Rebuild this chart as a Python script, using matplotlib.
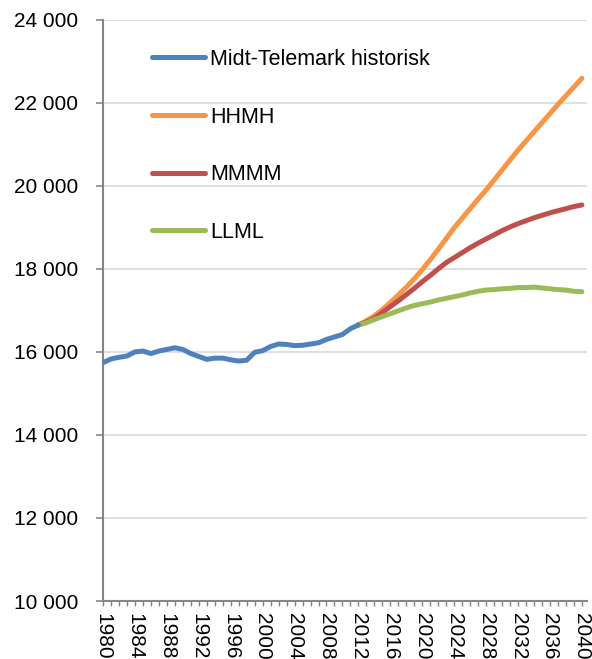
import numpy as np
import matplotlib
matplotlib.use("Agg")
import matplotlib.pyplot as plt
from matplotlib.ticker import FuncFormatter, MultipleLocator

plt.rcParams['font.family'] = ['Liberation Sans', 'DejaVu Sans']

# historical population, Midt-Telemark
hist_years = list(range(1980, 2013))
hist_values = [15740, 15830, 15870, 15900, 16000, 16020, 15960, 16020, 16060, 16100,
               16060, 15960, 15890, 15820, 15850, 15850, 15810, 15780, 15800, 15990,
               16030, 16130, 16190, 16180, 16150, 16160, 16190, 16220, 16300, 16360,
               16420, 16560, 16650]

# projections 2012-2040
proj_years = list(range(2012, 2041))
hhmh = [16650, 16750, 16870, 17020, 17190, 17370, 17560, 17760, 17980, 18220,
        18470, 18730, 18990, 19220, 19450, 19680, 19900, 20140, 20380, 20620,
        20860, 21080, 21300, 21520, 21740, 21960, 22170, 22380, 22590]
mmmm = [16650, 16720, 16810, 16950, 17090, 17230, 17380, 17530, 17690, 17840,
        18000, 18150, 18270, 18390, 18510, 18620, 18720, 18820, 18920, 19010,
        19090, 19160, 19230, 19290, 19350, 19400, 19450, 19500, 19540]
llml = [16650, 16700, 16780, 16850, 16920, 16990, 17060, 17120, 17160, 17200,
        17250, 17290, 17330, 17370, 17420, 17460, 17490, 17500, 17520, 17530,
        17550, 17550, 17560, 17540, 17520, 17500, 17490, 17460, 17450]

labels = ["Midt-Telemark historisk", "HHMH", "MMMM", "LLML"]
colors = ["#4f81bd", "#f79646", "#c0504d", "#9bbb59"]

fig = plt.figure(figsize=(5.92, 6.59), dpi=100)
ax = fig.add_axes([0.174, 0.088, 0.817, 0.882])

lw = 3.6
ax.plot(hist_years, hist_values, color=colors[0], lw=lw, label=labels[0],
        solid_capstyle='round', solid_joinstyle='round', zorder=5)
for vals, lab, col in zip([hhmh, mmmm, llml], labels[1:], colors[1:]):
    ax.plot(proj_years, vals, color=col, lw=lw, label=lab,
            solid_capstyle='round', solid_joinstyle='round', zorder=4)

ax.set_xlim(1980, 2040.6)
ax.set_ylim(10000, 24000)

ax.yaxis.set_major_locator(MultipleLocator(2000))
ax.yaxis.set_major_formatter(FuncFormatter(lambda v, p: f"{int(v):,}".replace(",", " ")))
ax.xaxis.set_major_locator(MultipleLocator(4))
ax.xaxis.set_minor_locator(MultipleLocator(1))
ax.xaxis.set_major_formatter(FuncFormatter(lambda v, p: f"{int(round(v))}"))

ax.grid(axis='y', color='#dde1e1', lw=1.5, zorder=0)
ax.set_axisbelow(True)

for s in ['top', 'right']:
    ax.spines[s].set_visible(False)
for s in ['left', 'bottom']:
    ax.spines[s].set_color('#868686')
    ax.spines[s].set_linewidth(1.5)

ax.tick_params(axis='y', length=5, width=1.2, color='#868686', pad=13,
               labelsize=15)
ax.tick_params(axis='x', which='both', length=3.5, width=1.0, color='#868686',
               pad=5, labelsize=15, labelrotation=270)

leg = ax.legend(loc='upper left', bbox_to_anchor=(152 / 592, 1 - 49 / 659),
                bbox_transform=fig.transFigure, frameon=False, fontsize=15.5,
                handlelength=2.45, handletextpad=0.25, labelspacing=1.70,
                borderpad=0, borderaxespad=0)

fig.savefig("out.png", dpi=100)
